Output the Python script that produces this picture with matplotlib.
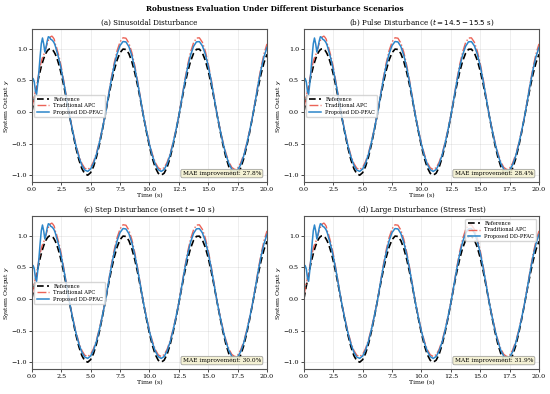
import numpy as np
import matplotlib
matplotlib.use("Agg")
import matplotlib.pyplot as plt

plt.rcParams['font.family'] = ['DejaVu Serif']
plt.rcParams['mathtext.fontset'] = 'dejavusans'

# time grid (s)
time = np.round(np.concatenate([np.arange(0, 2.55, 0.1), np.arange(2.75, 20.01, 0.25)]), 2)

reference = [0.000, 0.0998, 0.1987, 0.2955, 0.3894, 0.4794, 0.5646, 0.6442, 0.7174, 0.7833,
             0.8415, 0.8912, 0.9320, 0.9636, 0.9854, 0.9975, 0.9996, 0.9917, 0.9738, 0.9463,
             0.9093, 0.8632, 0.8085, 0.7457, 0.6755, 0.5985,
             0.3817, 0.1411, -0.1082, -0.3508, -0.5716, -0.7568, -0.8950, -0.9775, -0.9993, -0.9589,
             -0.8589, -0.7055, -0.5083, -0.2794, -0.0332, 0.2151, 0.4500, 0.6570, 0.8231, 0.9380,
             0.9946, 0.9894, 0.9228, 0.7985, 0.6240, 0.4121, 0.1743, -0.0751, -0.3195, -0.5440,
             -0.7346, -0.8797, -0.9701, -1.0000, -0.9679, -0.8755, -0.7287, -0.5366, -0.3111, -0.0663,
             0.1826, 0.4202, 0.6317, 0.8038, 0.9260, 0.9906, 0.9937, 0.9349, 0.8181, 0.6503,
             0.4421, 0.2065, -0.0420, -0.2879, -0.5158, -0.7118, -0.8637, -0.9614, -0.9996, -0.9756,
             -0.8912, -0.7510, -0.5643, -0.3425, -0.0994, 0.1499, 0.3898, 0.6055, 0.7836, 0.9129]

traditional = [0.05, 0.15, 0.25, 0.32, 0.40, 0.52, 0.62, 0.72, 0.80, 0.86,
               0.90, 0.95, 1.02, 1.08, 1.13, 1.17, 1.19, 1.20, 1.18, 1.15,
               1.07, 1.02, 0.95, 0.88, 0.80, 0.71,
               0.450, 0.167, -0.098, -0.319, -0.520, -0.689, -0.814, -0.890, -0.909, -0.873,
               -0.782, -0.642, -0.463, -0.254, -0.030, 0.254, 0.531, 0.775, 0.971, 1.107,
               1.174, 1.167, 1.089, 0.942, 0.736, 0.486, 0.206, -0.068, -0.291, -0.495,
               -0.668, -0.801, -0.883, -0.910, -0.881, -0.797, -0.663, -0.488, -0.283, -0.060,
               0.215, 0.496, 0.745, 0.948, 1.093, 1.169, 1.173, 1.103, 0.965, 0.767,
               0.522, 0.244, -0.038, -0.262, -0.469, -0.648, -0.786, -0.875, -0.910, -0.888,
               -0.811, -0.683, -0.514, -0.312, -0.090, 0.177, 0.460, 0.714, 0.925, 1.077]

proposed = [0.45, 0.53, 0.48, 0.33, 0.28, 0.45, 0.65, 0.88, 1.08, 1.17,
            1.08, 0.95, 1.02, 1.12, 1.19, 1.18, 1.15, 1.14, 1.12, 1.09,
            1.04, 0.97, 0.906, 0.835, 0.757, 0.670,
            0.428, 0.158, -0.102, -0.330, -0.537, -0.711, -0.841, -0.919, -0.939, -0.901,
            -0.807, -0.663, -0.478, -0.263, -0.031, 0.241, 0.504, 0.736, 0.922, 1.051,
            1.114, 1.108, 1.034, 0.894, 0.699, 0.462, 0.195, -0.071, -0.300, -0.511,
            -0.691, -0.827, -0.912, -0.940, -0.910, -0.823, -0.685, -0.504, -0.292, -0.062,
            0.205, 0.471, 0.708, 0.900, 1.037, 1.109, 1.113, 1.047, 0.916, 0.728,
            0.495, 0.231, -0.039, -0.271, -0.485, -0.669, -0.812, -0.904, -0.940, -0.917,
            -0.838, -0.706, -0.530, -0.322, -0.093, 0.168, 0.437, 0.678, 0.878, 1.022]

titles = ["(a) Sinusoidal Disturbance",
          "(b) Pulse Disturbance ($t = 14.5 - 15.5$ s)",
          "(c) Step Disturbance (onset $t = 10$ s)",
          "(d) Large Disturbance (Stress Test)"]
mae_improvement = [27.8, 28.4, 30.0, 31.9]
legend_locs = ["center left", "center left", "center left", "upper right"]

fig, axes = plt.subplots(2, 2, figsize=(5.5, 3.94), dpi=100)
fig.subplots_adjust(left=0.058, right=0.98, top=0.926, bottom=0.063, wspace=0.157, hspace=0.222)
fig.suptitle("Robustness Evaluation Under Different Disturbance Scenarios",
             fontsize=5.3, fontweight='bold', y=0.988)

for ax, title, mae, loc in zip(axes.flat, titles, mae_improvement, legend_locs):
    ax.plot(time, reference, color='black', linestyle=(0, (4, 2)), linewidth=1.2, label='Reference')
    ax.plot(time, traditional, color='#E8483A', linestyle='-.', linewidth=1.0, alpha=0.85,
            label='Traditional APC')
    ax.plot(time, proposed, color='#2C86CA', linestyle='-', linewidth=1.1, label='Proposed DD-PFAC')
    ax.set_xlim(0, 20)
    ax.set_title(title, fontsize=5.1, pad=3)
    ax.set_xlabel("Time (s)", fontsize=4.4, labelpad=1)
    ax.set_ylabel("System Output $y$", fontsize=4.4, labelpad=0.5)
    ax.tick_params(labelsize=4.6, length=2, width=0.5, pad=1.5)
    ax.set_xticks([0, 2.5, 5, 7.5, 10, 12.5, 15, 17.5, 20])
    ax.grid(True, alpha=0.3, linewidth=0.5)
    for sp in ax.spines.values():
        sp.set_linewidth(0.8)
        sp.set_color('#555555')
    ax.legend(loc=loc, fontsize=3.7, framealpha=0.8, handlelength=2.5, borderpad=0.4,
              labelspacing=0.3, edgecolor='#cccccc')
    ax.text(0.975, 0.04, f"MAE improvement: {mae:.1f}%", transform=ax.transAxes,
            ha='right', va='bottom', fontsize=4.2,
            bbox=dict(boxstyle='round,pad=0.3', facecolor='#F3F0D0', edgecolor='#888888',
                      linewidth=0.5, alpha=0.9))

fig.savefig("out.png", dpi=100)
